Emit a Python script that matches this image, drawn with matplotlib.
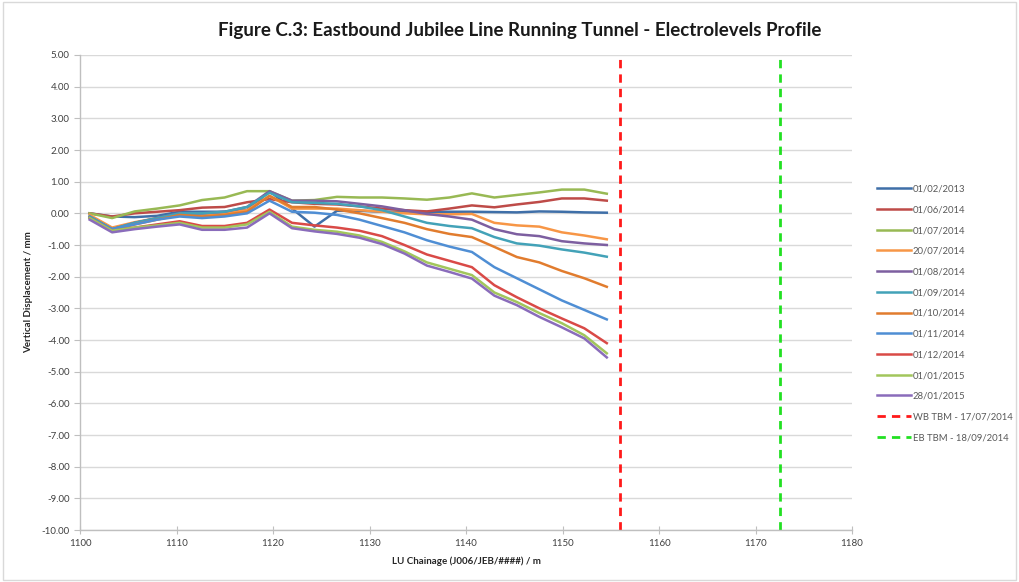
import matplotlib
matplotlib.use("Agg")
import matplotlib.pyplot as plt
from matplotlib.ticker import MultipleLocator, FormatStrFormatter

plt.rcParams['font.family'] = ['Lato', 'DejaVu Sans']

# Electrolevel chainage positions (m)
chainage = [1101.0, 1103.33, 1105.66, 1107.99, 1110.32, 1112.65, 1114.98, 1117.31,
            1119.64, 1121.97, 1124.3, 1126.63, 1128.96, 1131.29, 1133.62, 1135.95,
            1138.28, 1140.61, 1142.94, 1145.27, 1147.6, 1149.93, 1152.26, 1154.59]

dates = ["01/02/2013", "01/06/2014", "01/07/2014", "20/07/2014", "01/08/2014",
         "01/09/2014", "01/10/2014", "01/11/2014", "01/12/2014", "01/01/2015",
         "28/01/2015"]

s_2013_02 = [0.0, -0.1, -0.12, -0.08, 0.05, 0.05, 0.05, 0.1, 0.7, 0.15, -0.42, 0.08,
             0.08, 0.05, 0.05, 0.05, 0.05, 0.05, 0.04, 0.03, 0.06, 0.05, 0.03, 0.02]
s_2014_06 = [0.0, -0.1, 0.0, 0.05, 0.1, 0.18, 0.2, 0.35, 0.45, 0.35, 0.3, 0.28,
             0.22, 0.15, 0.1, 0.06, 0.15, 0.25, 0.19, 0.28, 0.36, 0.47, 0.47, 0.4]
s_2014_07 = [0.0, -0.15, 0.06, 0.15, 0.25, 0.42, 0.5, 0.7, 0.7, 0.4, 0.42, 0.52,
             0.5, 0.5, 0.47, 0.43, 0.5, 0.63, 0.5, 0.58, 0.66, 0.75, 0.75, 0.62]
s_2014_07b = [-0.05, -0.45, -0.28, -0.15, -0.05, -0.05, 0.0, 0.1, 0.55, 0.15, 0.15, 0.15,
              0.1, 0.05, 0.0, -0.03, -0.03, -0.02, -0.3, -0.38, -0.42, -0.6, -0.7, -0.82]
s_2014_08 = [-0.1, -0.5, -0.3, -0.15, 0.0, 0.0, 0.05, 0.2, 0.7, 0.4, 0.4, 0.38,
             0.3, 0.22, 0.1, -0.02, -0.1, -0.2, -0.5, -0.66, -0.72, -0.88, -0.95, -1.0]
s_2014_09 = [-0.1, -0.5, -0.3, -0.15, 0.0, 0.0, 0.05, 0.2, 0.65, 0.35, 0.33, 0.3,
             0.22, 0.1, -0.1, -0.3, -0.4, -0.47, -0.75, -0.95, -1.02, -1.14, -1.24, -1.37]
s_2014_10 = [-0.15, -0.55, -0.35, -0.2, -0.05, -0.1, -0.05, 0.05, 0.55, 0.2, 0.2, 0.12,
             0.0, -0.15, -0.3, -0.5, -0.65, -0.75, -1.06, -1.38, -1.55, -1.82, -2.05, -2.32]
s_2014_11 = [-0.15, -0.5, -0.35, -0.2, -0.1, -0.15, -0.1, 0.0, 0.4, 0.05, 0.02, -0.05,
             -0.2, -0.4, -0.6, -0.85, -1.05, -1.22, -1.7, -2.05, -2.4, -2.75, -3.05, -3.35]
s_2014_12 = [-0.15, -0.55, -0.45, -0.35, -0.25, -0.4, -0.4, -0.3, 0.12, -0.3, -0.38, -0.45,
             -0.55, -0.72, -1.0, -1.3, -1.5, -1.7, -2.27, -2.65, -3.0, -3.32, -3.63, -4.1]
s_2015_01 = [-0.15, -0.55, -0.45, -0.38, -0.3, -0.45, -0.45, -0.35, 0.05, -0.42, -0.52, -0.58,
             -0.7, -0.9, -1.2, -1.55, -1.75, -1.95, -2.5, -2.8, -3.15, -3.47, -3.85, -4.42]
s_2015_01b = [-0.2, -0.6, -0.5, -0.42, -0.35, -0.52, -0.52, -0.45, 0.0, -0.47, -0.57, -0.65,
              -0.77, -0.97, -1.27, -1.65, -1.85, -2.06, -2.6, -2.9, -3.27, -3.6, -3.95, -4.55]

series = [s_2013_02, s_2014_06, s_2014_07, s_2014_07b, s_2014_08, s_2014_09,
          s_2014_10, s_2014_11, s_2014_12, s_2015_01, s_2015_01b]
colors = ["#3F6FA8", "#BE4B48", "#98B954", "#F79646", "#7D5FA0", "#43A2B8",
          "#E17C2E", "#4F8ED4", "#D94A47", "#A2C65C", "#8A6CBB"]

# TBM passage chainages
wb_tbm_chainage = 1156.0
eb_tbm_chainage = 1172.5
wb_label = "WB TBM - 17/07/2014"
eb_label = "EB TBM - 18/09/2014"

fig = plt.figure(figsize=(10.19, 5.82), dpi=100)
ax = fig.add_axes([80 / 1019, 1 - 530 / 582, (852 - 80) / 1019, (530 - 55) / 582])

for vals, c, lab in zip(series, colors, dates):
    ax.plot(chainage, vals, color=c, lw=1.8, label=lab, solid_joinstyle='round')

ax.axvline(wb_tbm_chainage, color="#FF1A1A", lw=2.0, ls=(0, (3, 2.2)), label=wb_label)
ax.axvline(eb_tbm_chainage, color="#22E022", lw=2.0, ls=(0, (3, 2.2)), label=eb_label)

ax.set_xlim(1100, 1180)
ax.set_ylim(-10, 5)
ax.xaxis.set_major_locator(MultipleLocator(10))
ax.yaxis.set_major_locator(MultipleLocator(1))
ax.yaxis.set_major_formatter(FormatStrFormatter('%.2f'))
ax.grid(axis='y', color="#D9D9D9", lw=1.0)
ax.set_axisbelow(True)
for s in ("top", "right"):
    ax.spines[s].set_visible(False)
for s in ("left", "bottom"):
    ax.spines[s].set_color("#BFBFBF")
    ax.spines[s].set_linewidth(1.0)
ax.tick_params(axis='both', colors="#BFBFBF", labelcolor="#404040", labelsize=7, length=4)
ax.tick_params(axis='x', direction='inout', length=6)

ax.set_xlabel("LU Chainage (J006/JEB/####) / m", fontsize=7, fontweight='bold',
              color="#262626", labelpad=6)
ax.set_ylabel("Vertical Displacement / mm", fontsize=7, fontweight='bold',
              color="#262626", labelpad=6)

fig.text(0.51, 0.948, "Figure C.3: Eastbound Jubilee Line Running Tunnel - Electrolevels Profile",
         ha='center', va='center', fontsize=13.5, fontweight='bold', color="#1A1A1A")

leg = ax.legend(loc='upper left', bbox_to_anchor=((868 - 80) / 772, 0.745),
                frameon=False, fontsize=6.8, handlelength=3.6, handletextpad=0.25,
                labelspacing=1.24, labelcolor="#595959")

# outer chart border
fig.patches.append(plt.Rectangle((0.003, 0.004), 0.994, 0.992, transform=fig.transFigure,
                                 fill=False, edgecolor="#D9D9D9", lw=1.0))

fig.savefig("out.png", dpi=100)
